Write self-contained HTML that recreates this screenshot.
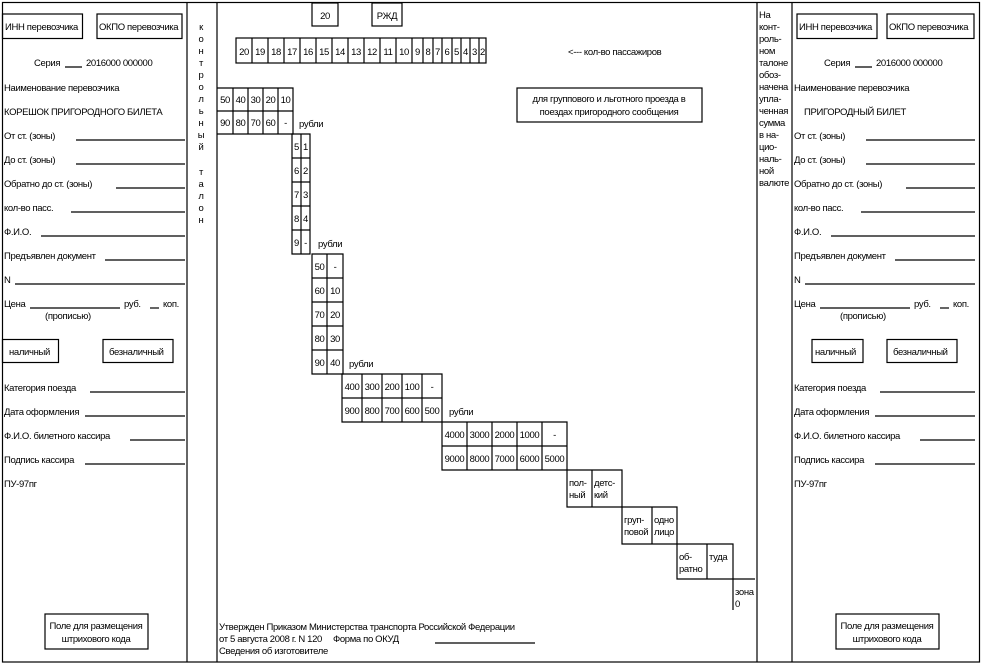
<!DOCTYPE html>
<html><head><meta charset="utf-8"><style>
html,body{margin:0;padding:0;background:#fff}
svg{display:block}
text{font-family:"Liberation Sans","DejaVu Sans",sans-serif;font-size:9.5px;letter-spacing:-0.35px;fill:#000}
</style></head><body>
<svg width="981" height="665" viewBox="0 0 981 665" xmlns="http://www.w3.org/2000/svg">
<g fill="none" stroke="#000" stroke-width="1.2">
<rect x="2.5" y="2.5" width="977" height="659.5"/>
<line x1="187" y1="2" x2="187" y2="662"/>
<line x1="217" y1="2" x2="217" y2="662"/>
<line x1="757" y1="2" x2="757" y2="662"/>
<line x1="792" y1="2" x2="792" y2="662"/>
<rect x="2.5" y="14" width="80" height="24.5"/>
<rect x="97" y="14" width="85" height="24.5"/>
<rect x="2.5" y="339.5" width="56" height="23"/>
<rect x="103" y="339.5" width="70" height="23"/>
<rect x="45" y="614" width="103" height="35"/>
<rect x="797" y="14" width="80" height="24.5"/>
<rect x="887" y="14" width="87" height="24.5"/>
<rect x="812" y="339.5" width="51" height="23"/>
<rect x="887" y="339.5" width="70" height="23"/>
<rect x="836" y="614" width="103" height="35"/>
<rect x="312" y="3" width="26" height="23"/>
<rect x="372" y="3" width="30" height="23"/>
<rect x="517" y="88" width="185" height="34"/>
<rect x="236" y="38" width="250" height="25"/>
</g>
<g stroke="#000" stroke-width="1.2">
<line x1="76" y1="140" x2="185" y2="140"/><line x1="76" y1="164" x2="185" y2="164"/>
<line x1="116" y1="188" x2="185" y2="188"/><line x1="71" y1="212" x2="185" y2="212"/>
<line x1="41" y1="236" x2="185" y2="236"/><line x1="105" y1="260" x2="185" y2="260"/>
<line x1="15" y1="284" x2="185" y2="284"/><line x1="30" y1="308" x2="120" y2="308"/>
<line x1="150" y1="308" x2="159" y2="308"/>
<line x1="65" y1="67" x2="82" y2="67"/>
<line x1="90" y1="392" x2="185" y2="392"/><line x1="85" y1="416" x2="185" y2="416"/>
<line x1="130" y1="440" x2="185" y2="440"/><line x1="85" y1="464" x2="185" y2="464"/>
<line x1="866" y1="140" x2="975" y2="140"/><line x1="866" y1="164" x2="975" y2="164"/>
<line x1="906" y1="188" x2="975" y2="188"/><line x1="861" y1="212" x2="975" y2="212"/>
<line x1="831" y1="236" x2="975" y2="236"/><line x1="895" y1="260" x2="975" y2="260"/>
<line x1="805" y1="284" x2="975" y2="284"/><line x1="820" y1="308" x2="910" y2="308"/>
<line x1="940" y1="308" x2="949" y2="308"/>
<line x1="855" y1="67" x2="872" y2="67"/>
<line x1="880" y1="392" x2="975" y2="392"/><line x1="875" y1="416" x2="975" y2="416"/>
<line x1="920" y1="440" x2="975" y2="440"/><line x1="875" y1="464" x2="975" y2="464"/>
<line x1="435" y1="643" x2="535" y2="643"/>
</g>
<g fill="none" stroke="#000" stroke-width="1.2">
<path d="M252 38V63M268 38V63M284 38V63M300 38V63M316 38V63M332 38V63M348 38V63M364 38V63M380 38V63M396 38V63M412 38V63M423 38V63M433 38V63M442 38V63M452 38V63M461 38V63M470 38V63M479 38V63"/>
<path d="M217 88H293V134H217M217 111H293M233 88V134M248 88V134M263 88V134M278 88V134"/>
<path d="M292 134H310V254H292ZM292 158H310M292 182H310M292 206H310M292 230H310M301 134V254"/>
<path d="M312 254H343V374H312ZM312 278H343M312 302H343M312 326H343M312 350H343M327 254V374"/>
<path d="M342 374H442V422H342ZM342 398H442M362 374V422M382 374V422M402 374V422M422 374V422"/>
<path d="M442 422H567V470H442ZM442 446H567M467 422V470M492 422V470M517 422V470M542 422V470"/>
<path d="M567 470H622V507H567ZM592 470V507"/>
<path d="M622 507H677V544H622ZM652 507V544"/>
<path d="M677 544H733V579H677ZM707 544V579"/>
<path d="M733 579H755M733 579V610"/>
</g>
<g>
<text x="5" y="30">ИНН перевозчика</text>
<text x="99" y="30">ОКПО перевозчика</text>
<text x="34" y="66">Серия</text><text x="86" y="66">2016000 000000</text>
<text x="4" y="91">Наименование перевозчика</text>
<text x="4" y="115">КОРЕШОК ПРИГОРОДНОГО БИЛЕТА</text>
<text x="4" y="139">От ст. (зоны)</text>
<text x="4" y="163">До ст. (зоны)</text>
<text x="4" y="187">Обратно до ст. (зоны)</text>
<text x="4" y="211">кол-во пасс.</text>
<text x="4" y="235">Ф.И.О.</text>
<text x="4" y="259">Предъявлен документ</text>
<text x="4" y="283">N</text>
<text x="4" y="307">Цена</text><text x="124" y="307">руб.</text><text x="163" y="307">коп.</text>
<text x="45" y="319">(прописью)</text>
<text x="9" y="355">наличный</text>
<text x="109" y="355">безналичный</text>
<text x="4" y="391">Категория поезда</text>
<text x="4" y="415">Дата оформления</text>
<text x="4" y="439">Ф.И.О. билетного кассира</text>
<text x="4" y="463">Подпись кассира</text>
<text x="4" y="487">ПУ-97пг</text>
<text x="96" y="629" text-anchor="middle">Поле для размещения</text>
<text x="96" y="642" text-anchor="middle">штрихового кода</text>

<text x="799" y="30">ИНН перевозчика</text>
<text x="889" y="30">ОКПО перевозчика</text>
<text x="824" y="66">Серия</text><text x="876" y="66">2016000 000000</text>
<text x="794" y="91">Наименование перевозчика</text>
<text x="804" y="115">ПРИГОРОДНЫЙ БИЛЕТ</text>
<text x="794" y="139">От ст. (зоны)</text>
<text x="794" y="163">До ст. (зоны)</text>
<text x="794" y="187">Обратно до ст. (зоны)</text>
<text x="794" y="211">кол-во пасс.</text>
<text x="794" y="235">Ф.И.О.</text>
<text x="794" y="259">Предъявлен документ</text>
<text x="794" y="283">N</text>
<text x="794" y="307">Цена</text><text x="914" y="307">руб.</text><text x="953" y="307">коп.</text>
<text x="840" y="319">(прописью)</text>
<text x="815" y="355">наличный</text>
<text x="893" y="355">безналичный</text>
<text x="794" y="391">Категория поезда</text>
<text x="794" y="415">Дата оформления</text>
<text x="794" y="439">Ф.И.О. билетного кассира</text>
<text x="794" y="463">Подпись кассира</text>
<text x="794" y="487">ПУ-97пг</text>
<text x="887" y="629" text-anchor="middle">Поле для размещения</text>
<text x="887" y="642" text-anchor="middle">штрихового кода</text>
</g>
<g text-anchor="middle">
<text x="201" y="30">к</text><text x="201" y="42">о</text><text x="201" y="54">н</text><text x="201" y="66">т</text><text x="201" y="78">р</text><text x="201" y="90">о</text><text x="201" y="102">л</text><text x="201" y="114">ь</text><text x="201" y="126">н</text><text x="201" y="138">ы</text><text x="201" y="150">й</text>
<text x="201" y="175">т</text><text x="201" y="187">а</text><text x="201" y="199">л</text><text x="201" y="211">о</text><text x="201" y="223">н</text>
</g>
<g>
<text x="759" y="18">На</text><text x="759" y="30">конт-</text><text x="759" y="42">роль-</text><text x="759" y="54">ном</text><text x="759" y="66">талоне</text><text x="759" y="78">обоз-</text><text x="759" y="90">начена</text><text x="759" y="102">упла-</text><text x="759" y="114">ченная</text><text x="759" y="126">сумма</text><text x="759" y="138">в на-</text><text x="759" y="150">цио-</text><text x="759" y="162">наль-</text><text x="759" y="174">ной</text><text x="759" y="186">валюте</text>
</g>
<g text-anchor="middle">
<text x="325" y="19">20</text><text x="387" y="19">РЖД</text>
<text x="244" y="55">20</text><text x="260" y="55">19</text><text x="276" y="55">18</text><text x="292" y="55">17</text><text x="308" y="55">16</text><text x="324" y="55">15</text><text x="340" y="55">14</text><text x="356" y="55">13</text><text x="372" y="55">12</text><text x="388" y="55">11</text><text x="404" y="55">10</text><text x="417.5" y="55">9</text><text x="428" y="55">8</text><text x="437.5" y="55">7</text><text x="447" y="55">6</text><text x="456.5" y="55">5</text><text x="465.5" y="55">4</text><text x="474.5" y="55">3</text><text x="482.5" y="55">2</text>
<text x="609" y="102">для группового и льготного проезда в</text>
<text x="609" y="115">поездах пригородного сообщения</text>
<text x="225" y="103">50</text><text x="240.5" y="103">40</text><text x="255.5" y="103">30</text><text x="270.5" y="103">20</text><text x="285.5" y="103">10</text>
<text x="225" y="126">90</text><text x="240.5" y="126">80</text><text x="255.5" y="126">70</text><text x="270.5" y="126">60</text><text x="285.5" y="126">-</text>
<text x="296.5" y="150">5</text><text x="305.5" y="150">1</text>
<text x="296.5" y="174">6</text><text x="305.5" y="174">2</text>
<text x="296.5" y="198">7</text><text x="305.5" y="198">3</text>
<text x="296.5" y="222">8</text><text x="305.5" y="222">4</text>
<text x="296.5" y="246">9</text><text x="305.5" y="246">-</text>
<text x="319.5" y="270">50</text><text x="335" y="270">-</text>
<text x="319.5" y="294">60</text><text x="335" y="294">10</text>
<text x="319.5" y="318">70</text><text x="335" y="318">20</text>
<text x="319.5" y="342">80</text><text x="335" y="342">30</text>
<text x="319.5" y="366">90</text><text x="335" y="366">40</text>
<text x="352" y="390">400</text><text x="372" y="390">300</text><text x="392" y="390">200</text><text x="412" y="390">100</text><text x="432" y="390">-</text>
<text x="352" y="414">900</text><text x="372" y="414">800</text><text x="392" y="414">700</text><text x="412" y="414">600</text><text x="432" y="414">500</text>
<text x="454.5" y="438">4000</text><text x="479.5" y="438">3000</text><text x="504.5" y="438">2000</text><text x="529.5" y="438">1000</text><text x="554.5" y="438">-</text>
<text x="454.5" y="462">9000</text><text x="479.5" y="462">8000</text><text x="504.5" y="462">7000</text><text x="529.5" y="462">6000</text><text x="554.5" y="462">5000</text>
</g>
<g>
<text x="568" y="55">&lt;--- кол-во пассажиров</text>
<text x="299" y="127">рубли</text>
<text x="318" y="247">рубли</text>
<text x="349" y="367">рубли</text>
<text x="449" y="415">рубли</text>
<text x="569" y="486">пол-</text><text x="569" y="498">ный</text>
<text x="594" y="486">детс-</text><text x="594" y="498">кий</text>
<text x="624" y="523">груп-</text><text x="624" y="535">повой</text>
<text x="654" y="523">одно</text><text x="654" y="535">лицо</text>
<text x="679" y="560">об-</text><text x="679" y="572">ратно</text>
<text x="709" y="560">туда</text>
<text x="735" y="595">зона</text><text x="735" y="607">0</text>
<text x="219" y="630">Утвержден Приказом Министерства транспорта Российской Федерации</text>
<text x="219" y="642">от 5 августа 2008 г. N 120</text><text x="333" y="642">Форма по ОКУД</text>
<text x="219" y="654">Сведения об изготовителе</text>
</g>
</svg>
</body></html>
